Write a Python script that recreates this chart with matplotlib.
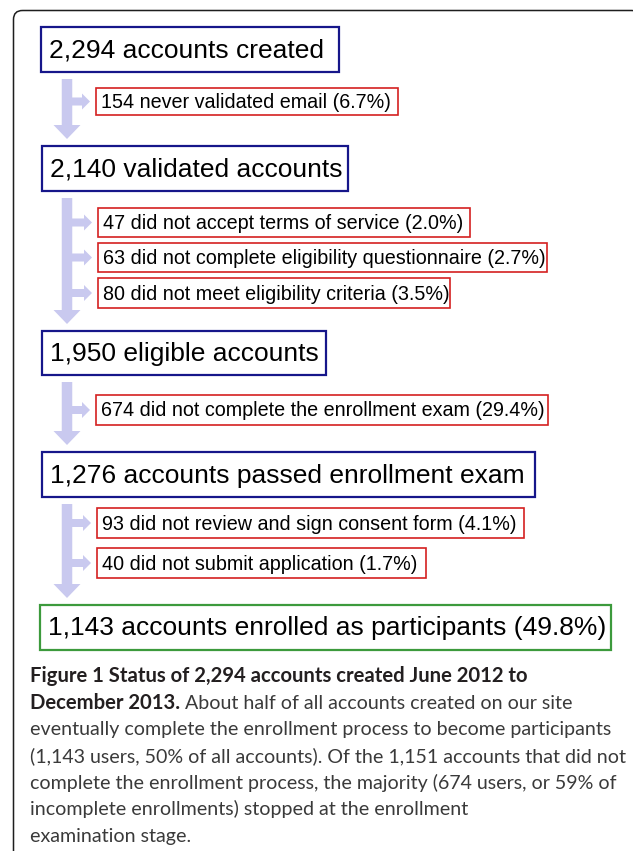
import matplotlib
matplotlib.use("Agg")
import matplotlib.pyplot as plt
from matplotlib.patches import Rectangle, FancyBboxPatch, FancyArrow

# ── data ─────────────────────────────────────────────────────────────────────
stage_counts = ["2,294", "2,140", "1,950", "1,276", "1,143"]
stage_labels = ["accounts created", "validated accounts", "eligible accounts",
                "accounts passed enrollment exam",
                "accounts enrolled as participants (49.8%)"]

drop_counts = [[154], [47, 63, 80], [674], [93, 40]]
drop_labels = [["never validated email"],
               ["did not accept terms of service",
                "did not complete eligibility questionnaire",
                "did not meet eligibility criteria"],
               ["did not complete the enrollment exam"],
               ["did not review and sign consent form",
                "did not submit application"]]
drop_pcts = [["6.7%"], ["2.0%", "2.7%", "3.5%"], ["29.4%"], ["4.1%", "1.7%"]]

caption_bold = ["Figure 1 Status of 2,294 accounts created June 2012 to",
                "December 2013."]
caption_body = [" About half of all accounts created on our site",
                "eventually complete the enrollment process to become participants",
                "(1,143 users, 50% of all accounts). Of the 1,151 accounts that did not",
                "complete the enrollment process, the majority (674 users, or 59% of",
                "incomplete enrollments) stopped at the enrollment",
                "examination stage."]

# ── layout (pixels) ──────────────────────────────────────────────────────────
W, H = 633, 851
stage_box = [(41, 339, 27, 72), (42, 348, 146, 191), (42, 326, 331, 375),
             (42, 535, 452, 497), (40, 611, 605, 650)]
drop_box = [[(96, 398, 88, 115)],
            [(98, 470, 208, 237), (98, 547, 243, 272), (98, 450, 278, 308)],
            [(96, 548, 395, 425)],
            [(97, 524, 508, 538), (97, 426, 548, 578)]]
NAVY, RED, GREEN = "#16168a", "#d42020", "#3c9a3c"
ARROW = "#c9c9ef"
MAIN_FS, DROP_FS = 19, 14.2
SHAFT_X = 67

fig = plt.figure(figsize=(W / 100, H / 100), dpi=100)
ax = fig.add_axes([0, 0, 1, 1])
ax.set_xlim(0, W); ax.set_ylim(H, 0); ax.axis("off")

# outer frame (runs off the right and bottom edges)
ax.add_patch(FancyBboxPatch((13.5, 10.5), 627, 870, boxstyle="round,pad=0,rounding_size=9",
                            facecolor="none", edgecolor="#1e1e1e", lw=1.1))

def box(b, text, ec, lw, fs, pad):
    l, r, t, btm = b
    ax.add_patch(Rectangle((l, t), r - l, btm - t, facecolor="white",
                           edgecolor=ec, lw=lw, zorder=3))
    ax.text(l + pad, (t + btm) / 2 + 1, text, fontsize=fs, family="Liberation Sans",
            va="center", ha="left", color="black", zorder=4)

for i, (cnt, lab) in enumerate(zip(stage_counts, stage_labels)):
    last = i == len(stage_counts) - 1
    box(stage_box[i], f"{cnt} {lab}", GREEN if last else NAVY, 1.6, MAIN_FS, 8)

for g in range(len(drop_counts)):
    top = stage_box[g][3] + 7
    tip = stage_box[g + 1][2] - 7
    ax.add_patch(FancyArrow(SHAFT_X, top, 0, tip - top, width=10.5, head_width=27,
                            head_length=14, length_includes_head=True,
                            color=ARROW, lw=0, zorder=1))
    for k, (n, lab, p) in enumerate(zip(drop_counts[g], drop_labels[g], drop_pcts[g])):
        b = drop_box[g][k]
        yc = (b[2] + b[3]) / 2
        ax.add_patch(FancyArrow(SHAFT_X, yc, b[0] - 6 - SHAFT_X, 0, width=8,
                                head_width=16, head_length=8,
                                length_includes_head=True, color=ARROW, lw=0, zorder=1))
        box(b, f"{n} {lab} ({p})", RED, 1.2, DROP_FS, 5)

# ── caption ──────────────────────────────────────────────────────────────────
CAP_FONT = "Lato"
renderer = fig.canvas.get_renderer()
probe = ax.text(0, 0, caption_body[1], fontsize=10, family=CAP_FONT)
w10 = probe.get_window_extent(renderer).width
probe.remove()
cap_fs = 10 * 581 / w10

x0, y0, dy = 30, 682, 26.7
ax.text(x0, y0, caption_bold[0], fontsize=cap_fs * 1.03, family=CAP_FONT, weight="bold",
        color="#231f20", va="baseline")
tb = ax.text(x0, y0 + dy, caption_bold[1], fontsize=cap_fs * 1.03, family=CAP_FONT,
             weight="bold", color="#231f20", va="baseline")
x1 = tb.get_window_extent(renderer).x1
ax.text(x1, y0 + dy, caption_body[0], fontsize=cap_fs, family=CAP_FONT,
        color="#3a3a3a", va="baseline")
for j, line in enumerate(caption_body[1:]):
    ax.text(x0, y0 + (j + 2) * dy, line, fontsize=cap_fs, family=CAP_FONT,
            color="#3a3a3a", va="baseline")

fig.savefig("out.png", dpi=100, facecolor="white")
